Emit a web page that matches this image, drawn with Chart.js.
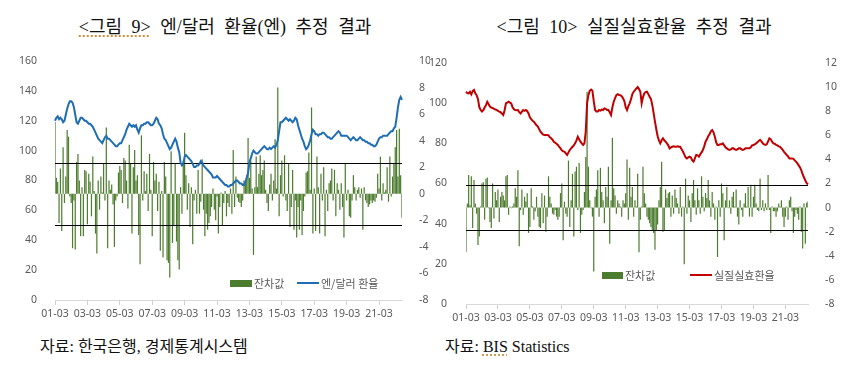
<!DOCTYPE html>
<html><head><meta charset="utf-8">
<script src="https://cdn.jsdelivr.net/npm/chart.js@4.4.1/dist/chart.umd.min.js"></script>
<style>
html,body{margin:0;padding:0;background:#fff;}
body{width:860px;height:383px;position:relative;overflow:hidden;font-family:"Liberation Serif","Noto Sans CJK KR",serif;}
.title{position:absolute;top:17px;font-size:18px;line-height:20px;color:#111;white-space:nowrap;transform:translateX(-50%);word-spacing:5px;}
.src{position:absolute;top:337px;font-size:16px;line-height:20px;color:#111;white-space:nowrap;}
.sq{text-decoration:underline dotted #c8822a;text-underline-offset:3px;}
.wrap{position:absolute;top:40px;width:430px;height:290px;}
canvas{display:block}
.lg{position:absolute;font-family:"Noto Sans CJK KR",sans-serif;font-size:11px;line-height:12px;color:#595959;white-space:nowrap;}
.sw{position:absolute;}
</style>
</head><body>
<div class="title" style="left:225px"><span class="sq">&lt;그림 9&gt;</span> 엔/달러 환율(엔) 추정 결과</div>
<div class="title" style="left:634px">&lt;그림 10&gt; 실질실효환율 추정 결과</div>
<div class="wrap" style="left:0"><canvas id="c1" width="430" height="290"></canvas></div>
<div class="wrap" style="left:430px"><canvas id="c2" width="430" height="290"></canvas></div>
<div class="sw" style="left:230px;top:280px;width:22px;height:7px;background:#4c7c2e"></div>
<div class="lg" style="left:254px;top:277px">잔차값</div>
<div class="sw" style="left:297px;top:282px;width:22px;height:2px;background:#1f6eb4"></div>
<div class="lg" style="left:321px;top:277px">엔/달러 환율</div>
<div class="sw" style="left:602px;top:272px;width:21px;height:7px;background:#4c7c2e"></div>
<div class="lg" style="left:625px;top:269px">잔차값</div>
<div class="sw" style="left:690px;top:274px;width:22px;height:2px;background:#c00000"></div>
<div class="lg" style="left:714px;top:269px">실질실효환율</div>
<div class="src" style="left:40px">자료: 한국은행, 경제통계시스템</div>
<div class="src" style="left:445px">자료: <span class="sq">BIS</span> Statistics</div>
<script>
// categories: monthly, 2001-03 .. 2022-08
const startYear = 2001, startMonth = 3, nMonths = 258;
const xTickLabels = ['01-03','03-03','05-03','07-03','09-03','11-03','13-03','15-03','17-03','19-03','21-03'];

// <그림 9> 엔/달러 환율 (left axis)
const yenRate = [
120,122,123,121,122,121,119,120,124,128,131,133,
133,132,129,124,119,118,120,122,122,121,120,120,
119,118,118,117,116,114,112,110,108,107,106,105,
107,109,110,108,108,107,106,105,104,103,103,104,
105,105,107,109,111,114,116,118,117,116,117,116,
117,114,112,115,117,117,118,118,119,119,118,117,
117,118,120,122,121,118,117,115,111,108,107,105,
103,101,102,104,106,108,106,102,99,92,90,91,
96,97,96,95,94,93,91,89,89,90,90,91,
93,92,90,89,88,87,86,85,84,82,82,82,
83,82,81,80,79,78,77,77,76,76,77,77,
78,79,80,80,79,78,78,77,77,79,82,85,
92,95,98,100,99,98,98,99,100,101,102,103,
102,101,101,102,101,102,103,102,104,107,113,119,
119,120,121,122,121,120,121,120,119,120,122,121,
117,114,111,108,106,103,101,102,104,107,111,114,
113,111,111,110,111,111,112,112,111,110,109,109,
108,108,109,110,111,112,113,112,110,110,110,110,
110,109,108,107,108,109,108,107,107,108,109,108,
107,107,106,106,105,105,104,104,103,103,104,106,
108,109,109,110,110,110,110,111,112,113,113,115,
116,122,129,134,136,134];
// <그림 9> 잔차값 (right axis)
const yenResid = [
5.4,1.2,0.9,-2.2,1.9,-2.8,3.5,-0.7,1.3,4.8,4.3,-0.2,
-0.7,-4.1,-0.5,-4.2,2.4,3.0,1.0,-3.2,0.5,-3.2,1.8,1.7,
-2.3,1.5,0.9,-1.7,2.8,0.2,-3.0,-4.5,1.0,-1.2,1.3,0.1,
2.3,-0.5,5.0,-4.1,1.0,0.3,0.7,-0.8,-4.0,-0.5,-0.2,1.6,
2.1,1.8,-0.7,2.7,2.5,1.0,-1.1,3.7,2.3,-3.0,2.0,3.3,
1.0,1.4,-3.1,-5.3,4.4,-0.5,1.7,0.2,1.5,-1.3,3.0,0.3,
-3.2,2.4,1.0,1.5,-1.3,0.9,-4.3,0.2,-4.8,2.4,1.3,-5.0,
-5.2,-6.3,3.2,-3.7,-2.4,2.3,-3.6,-5.0,-5.7,0.5,-1.5,2.5,
4.6,1.4,-1.2,0.8,-2.5,0.5,-3.8,-0.5,0.3,-1.5,1.8,-1.5,
-0.6,2.6,-1.2,-3.2,-1.5,-2.7,-2.2,-1.7,-1.0,0.4,-1.2,-2.0,
-0.2,-3.0,-1.0,0.1,-2.4,-0.7,0.2,-1.7,-0.7,-1.0,0.4,-1.5,
3.3,-1.0,1.3,-0.3,-0.6,-0.7,-1.0,-0.5,1.0,0.8,1.4,4.2,
1.2,2.5,0.4,-4.6,0.5,2.8,0.5,1.5,2.9,1.4,1.8,2.5,
0.3,-0.7,-1.3,0.7,1.5,-0.5,1.0,4.1,0.4,8.0,-1.7,1.4,
2.5,-0.2,2.9,-0.5,-1.3,2.3,-2.5,-1.0,1.8,-2.7,-0.5,-3.3,
-1.0,-2.7,-0.5,-3.1,-1.3,-0.2,1.6,1.7,3.1,0.3,6.5,-3.0,
0.4,-2.8,2.8,0.5,-3.0,1.5,-0.5,2.0,-3.2,0.3,-1.3,0.8,
1.0,1.9,-0.5,1.8,-1.7,0.8,0.3,-1.2,0.8,-1.0,-3.3,2.3,
-0.5,0.3,-1.7,-1.8,-0.5,1.4,0.5,-0.5,0.3,0.5,-0.3,0.4,
-2.7,0.5,-0.5,-0.7,-1.0,-0.8,-0.5,-0.7,-0.5,-0.6,-0.3,1.5,
0.4,2.8,-0.5,0.8,0.1,0.3,2.0,-0.6,2.8,-0.2,1.3,2.3,
3.5,4.8,1.3,4.9,1.4,-1.8];
const yenBands = [2.33, -2.33];

// <그림 10> 실질실효환율 (left axis)
const reerRate = [
105.7,105,104.9,105.7,104.4,106,106.6,104.9,104,102,98,96.6,
95.8,96.5,97.8,99,100.7,99.5,98.3,97.8,97.6,97.2,96.9,96.6,
96.2,95.8,95.5,94.8,94.1,96.5,99.9,100.3,100.7,100.3,99.9,98,
97,96.6,96.5,96.6,95.5,94.9,95.8,96.6,96.2,96.6,96,94.9,
93,92,91.2,90.8,89.8,89,88.3,87,85.8,85,84.3,84.1,
84.1,84.1,84,83,82.5,81.8,80.8,80.3,79.8,79.2,78.3,77.5,
76.5,76,75.9,75,74.2,75.5,76.7,77.5,78.3,79,80,81.5,
83.3,82,80.8,80,79.2,80,86,100,104,106.2,106.8,106.2,
101,96.6,95.8,95.8,96.6,96.3,96.8,96.6,97.4,97.2,96.6,96.6,
95.5,94.1,98,100.7,102.5,104,104.5,104.1,104,103.5,102.4,101,
98,96.6,98.5,99.9,102,104.5,105.7,106.5,107.4,108,107,105.7,
99.9,103,104.9,105.5,105.7,104.5,103.2,102,99,95,90.8,87,
83.5,81.5,80,81.5,82.5,81.5,80.8,80,79,77.5,78,78.3,
78.5,78.3,78.3,78.5,78.3,78.3,77,75.9,74.5,73,72.5,73,
73.4,73,71.5,70.9,72.5,74.2,74,73.4,74.5,75.5,76.7,78.5,
80.8,82,83.5,84.5,86,86.6,85.5,83.3,80.5,79.2,79.2,79.5,
79.5,80,79,78,77.5,77,76.7,77,77.5,77.5,77,76.7,
77,77.5,77.5,77,76.7,77,77.5,77.5,77.5,77.5,78,79,
79.2,79.5,80,80.5,81.2,81.7,81,80,79.5,79.2,79.5,81,
82.5,82,80.8,80,79.8,79.2,79,78.5,78.3,77.5,76.7,75.8,
75,74.2,73.5,72.5,72.5,72.5,72.3,71.5,70.9,70,69,68,
66.5,64.5,63,61.5,60.2,59.5];
// <그림 10> 잔차값 (right axis)
const reerResid = [
-3.7,0.35,2.7,0.2,2.6,-1.7,2.3,0.35,-0.5,-3.1,-2.4,0.1,
2.0,2.1,-1.0,2.4,2.5,-0.05,-1.2,-1.7,2.0,-0.9,1.3,0.6,
1.5,-1.2,0.9,1.3,1.0,0.6,2.6,2.7,-0.6,0.1,-0.05,0.1,
0.35,1.6,0.9,3.1,-3.2,-0.2,1.5,-0.6,0.9,0.5,1.2,-2.1,
-1.6,1.6,0.1,-1.0,-0.3,0.9,-0.75,-1.6,-1.7,1.2,-1.3,1.0,
-2.0,-0.75,2.6,0.9,0.35,-0.5,-0.6,-0.2,-0.75,-1.0,-0.75,1.2,
2.0,-2.7,0.5,-0.5,-0.75,3.9,-1.6,0.6,2.8,-2.4,3.0,3.4,
-0.2,3.7,-2.1,-0.6,-0.2,1.3,4.2,9.6,3.4,0.6,-0.05,-0.75,
-5.3,0.9,1.5,3.1,-0.75,3.3,1.3,0.6,-1.3,1.7,0.9,3.4,
-3.0,0.6,5.8,1.6,1.0,-0.5,0.6,0.35,0.1,-0.75,0.6,0.35,
1.2,4.0,-1.0,3.3,0.9,1.7,-0.75,0.6,0.1,2.8,-3.7,-1.0,
0.1,3.4,1.2,0.35,-0.75,-1.0,-1.3,-1.6,-1.9,-2.1,-3.5,-1.9,
-1.4,0.6,1.7,3.8,-2.0,-1.9,1.5,0.8,1.2,1.3,-0.75,1.0,
-0.5,1.5,0.8,0.35,-0.5,1.7,-0.75,0.1,-4.7,2.4,-0.5,1.0,
0.6,-1.2,1.2,2.3,0.6,-0.6,1.6,0.6,-0.5,2.6,0.9,-0.3,
1.2,0.8,2.3,0.6,-0.75,1.3,0.35,-1.0,0.1,-4.1,0.6,-0.75,
2.0,1.2,-2.7,0.6,1.7,-0.05,0.6,-0.5,0.9,1.3,0.1,1.5,
-0.75,-1.4,0.6,-0.2,-0.75,0.35,1.2,0.1,1.7,-0.75,1.9,-0.75,
0.9,1.9,0.35,-0.2,-0.3,2.4,-0.2,0.6,-0.3,0.35,-0.2,2.7,
-0.2,-2.1,0.1,-0.3,-0.3,-0.75,-0.3,0.35,0.1,0.6,-0.75,-1.6,
-0.75,0.1,-1.0,0.6,0.9,-0.3,-2.1,-0.75,-0.2,-0.5,-1.0,0.1,
-2.0,-3.4,0.35,-3.0,0.4,0.5];
const reerBands = [1.9, -1.9];

const months = [];
for (let i = 0; i < nMonths; i++) {
  const m = startMonth - 1 + i;
  const y = startYear + Math.floor(m / 12);
  const mm = (m % 12) + 1;
  months.push(String(y % 100).padStart(2, '0') + '-' + String(mm).padStart(2, '0'));
}

const bandLines = {
  id: 'bandLines',
  afterDatasetDraw(chart, args, opts) {
    if (args.index !== 0) return;
    const s = chart.scales.y1, a = chart.chartArea, ctx = chart.ctx;
    ctx.save();
    ctx.strokeStyle = '#000';
    ctx.lineWidth = 1.2;
    (opts.values || []).forEach(v => {
      const py = Math.round(s.getPixelForValue(v)) + 0.5;
      ctx.beginPath(); ctx.moveTo(a.left, py); ctx.lineTo(a.right, py); ctx.stroke();
    });
    ctx.restore();
  }
};

const tickFont = { family: '"Noto Sans", "DejaVu Sans", sans-serif', size: 10.5 };
const tickColor = '#595959';

function makeChart(id, rate, resid, lineColor, lineLabel, yMax, y1Min, y1Max, bands, geom) {
  return new Chart(document.getElementById(id), {
    type: 'bar',
    data: {
      labels: months,
      datasets: [
        { type: 'bar', label: '잔차값', data: resid, yAxisID: 'y1', order: 2,
          backgroundColor: '#4c7c2e', borderWidth: 0, barPercentage: 1, categoryPercentage: 0.9 },
        { type: 'line', label: lineLabel, data: rate, yAxisID: 'y', order: 1,
          borderColor: lineColor, borderWidth: 2, pointRadius: 0, tension: 0, fill: false }
      ]
    },
    options: {
      responsive: false, animation: false, events: [],
      layout: { padding: { top: geom.top, left: 0, right: 0, bottom: 0 } },
      plugins: { legend: { display: false }, tooltip: { enabled: false }, bandLines: { values: bands } },
      scales: {
        x: {
          type: 'category', offset: false,
          grid: { display: true, drawOnChartArea: false, drawTicks: true, tickLength: 5, offset: false,
            color: c => (c.tick && (c.tick.label || c.index === nMonths - 1)) ? '#d0d0d0' : 'rgba(0,0,0,0)' },
          border: { display: true, color: '#d9d9d9', width: 1 },
          ticks: { autoSkip: false, maxRotation: 0, minRotation: 0, padding: 3, color: tickColor, font: tickFont,
            callback: function (v) { const l = this.getLabelForValue(v); return xTickLabels.includes(l) ? l : null; } },
          afterFit: s => { s.height = geom.xh; }
        },
        y: {
          position: 'left', min: 0, max: yMax,
          grid: { display: false }, border: { display: false },
          ticks: { stepSize: 20, padding: geom.lpad, color: tickColor, font: tickFont },
          afterFit: s => { s.width = geom.lw; }
        },
        y1: {
          position: 'right', min: y1Min, max: y1Max,
          grid: { display: false }, border: { display: false },
          ticks: { stepSize: 2, padding: geom.rpad, color: tickColor, font: tickFont },
          afterFit: s => { s.width = geom.rw; }
        }
      }
    },
    plugins: [bandLines]
  });
}

makeChart('c1', yenRate, yenResid, '#1f6eb4', '엔/달러 환율', 160, -8, 10, yenBands,
  { top: 21, xh: 30, lw: 55, rw: 28, lpad: 10, rpad: 9 });
makeChart('c2', reerRate, reerResid, '#c00000', '실질실효환율', 120, -8, 12, reerBands,
  { top: 23, xh: 26, lw: 36, rw: 52, lpad: 11, rpad: 9 });
</script>
</body></html>
